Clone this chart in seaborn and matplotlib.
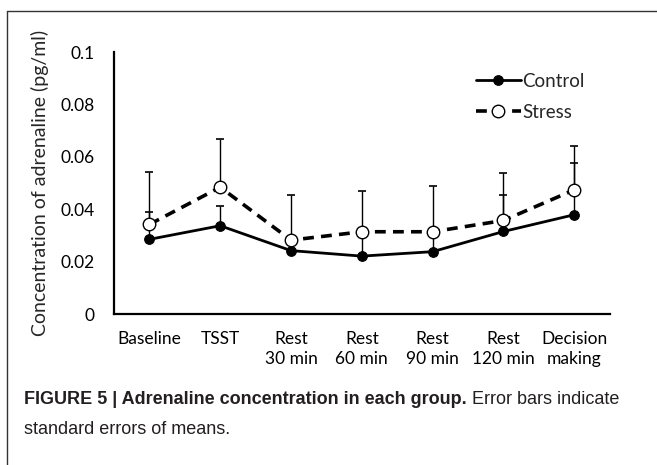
import numpy as np
import matplotlib.pyplot as plt
import seaborn as sns
from matplotlib.lines import Line2D

sns.set_theme(style="white")
plt.rcParams['font.family'] = ['Lato', 'DejaVu Sans']

# data
phases = ['Baseline', 'TSST', 'Rest\n30 min', 'Rest\n60 min', 'Rest\n90 min',
          'Rest\n120 min', 'Decision\nmaking']
control_mean = [0.0285, 0.0337, 0.0242, 0.0221, 0.0238, 0.0315, 0.0379]
control_se = [0.0103, 0.0076, 0.0040, 0.0090, 0.0070, 0.0140, 0.0196]
stress_mean = [0.0342, 0.0484, 0.0282, 0.0314, 0.0314, 0.0357, 0.0474]
stress_se = [0.0201, 0.0184, 0.0174, 0.0156, 0.0174, 0.0181, 0.0169]

y_ticks = [0, 0.02, 0.04, 0.06, 0.08, 0.1]
y_tick_labels = ['0', '0.02', '0.04', '0.06', '0.08', '0.1']

x = np.arange(len(phases))

fig = plt.figure(figsize=(6.57, 4.65), dpi=100)
ax = fig.add_axes([0.1735, 0.3247, 0.7545, 0.5634])

# one-sided (upper) error bars
ax.errorbar(x, control_mean, yerr=[np.zeros(len(x)), control_se], fmt='none',
            ecolor='black', elinewidth=1.0, capsize=3, capthick=1.2, zorder=2)
ax.errorbar(x, stress_mean, yerr=[np.zeros(len(x)), stress_se], fmt='none',
            ecolor='black', elinewidth=1.0, capsize=3, capthick=1.2, zorder=2)

sns.lineplot(x=x, y=control_mean, ax=ax, color='black', linewidth=2.0,
             marker='o', markersize=7, markerfacecolor='black',
             markeredgecolor='black', label='Control', zorder=3)
sns.lineplot(x=x, y=stress_mean, ax=ax, color='black', linewidth=2.6,
             linestyle=(0, (3, 2)), marker='o', markersize=9,
             markerfacecolor='white', markeredgecolor='black',
             markeredgewidth=1.0, label='Stress', zorder=4)

ax.set_xlim(-0.5, 6.5)
ax.set_ylim(0, 0.1)
ax.set_xticks(x)
ax.set_xticklabels(phases, fontsize=12.5, linespacing=1.35)
ax.set_xticks([6.5], minor=True)
ax.set_yticks(y_ticks)
ax.set_yticklabels(y_tick_labels, fontsize=12.5)
ax.tick_params(axis='both', which='both', direction='in', length=4,
               width=1.2, color='black', labelcolor='black')
ax.tick_params(axis='x', pad=12)
ax.tick_params(axis='y', pad=14)
ax.set_ylabel('Concentration of adrenaline (pg/ml)', fontsize=14, labelpad=8)

for side in ['top', 'right']:
    ax.spines[side].set_visible(False)
for side in ['left', 'bottom']:
    ax.spines[side].set_color('black')
    ax.spines[side].set_linewidth(1.6)

leg = ax.legend(loc='upper left', bbox_to_anchor=(0.715, 0.95), frameon=False,
                fontsize=13.5, handlelength=2.4, handletextpad=0.05,
                labelspacing=0.75, borderaxespad=0)

# page frame and caption
fig.add_artist(Line2D([7 / 657, 1], [1 - 11 / 465, 1 - 11 / 465],
                      color='#333333', linewidth=1.0))
fig.add_artist(Line2D([7 / 657, 7 / 657], [0, 1 - 11 / 465],
                      color='#333333', linewidth=1.0))

cap_font = ['Liberation Sans', 'DejaVu Sans']
t1 = fig.text(24 / 657, 1 - 404 / 465,
              'FIGURE 5 | Adrenaline concentration in each group.',
              fontsize=13, fontweight='bold', family=cap_font,
              color='#231f20')
fig.canvas.draw()
bb = t1.get_window_extent()
fig.text((bb.x1 + 5) / 657, 1 - 404 / 465, 'Error bars indicate',
         fontsize=13, family=cap_font, color='#231f20')
fig.text(24 / 657, 1 - 434 / 465, 'standard errors of means.',
         fontsize=13, family=cap_font, color='#231f20')

fig.savefig('out.png', dpi=100)
